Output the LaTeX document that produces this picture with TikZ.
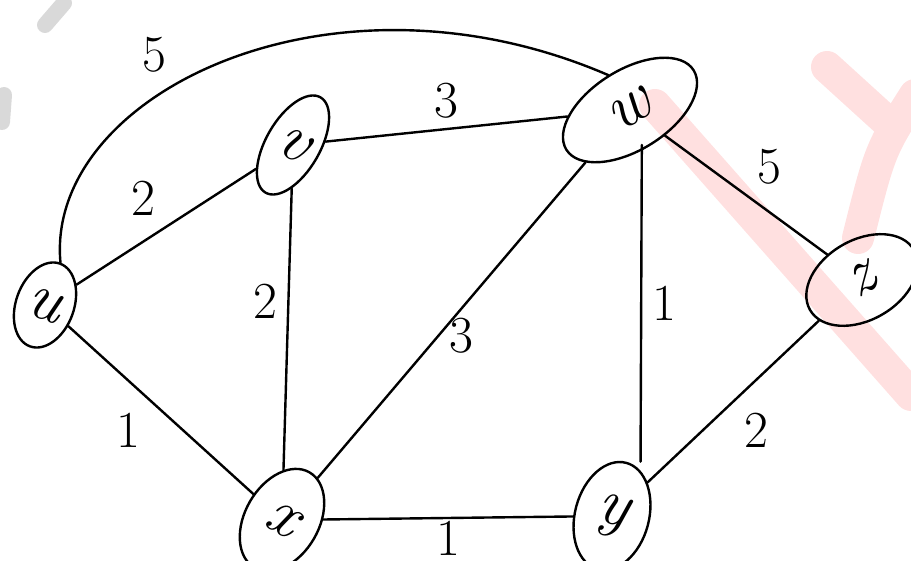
\documentclass[tikz,border=0pt]{standalone}
\usepackage{fontspec}
\usetikzlibrary{shapes.geometric}

\begin{document}
\begin{tikzpicture}[x=0.5pt,y=-0.5pt,
vertex/.style={draw=black, line width=1.2pt, ellipse, inner sep=0pt, font=\fontsize{33}{38}\selectfont\itshape},
edge/.style={draw=black, line width=1.2pt, line cap=round},
wt/.style={font=\fontsize{26}{30}\selectfont, inner sep=5pt},
wmark/.style={draw=red!12, line width=16pt, line cap=round},
scuff/.style={draw=gray!30, line width=8pt, line cap=round}
]
\useasboundingbox (0,0) rectangle (911,561);

\draw[wmark] (655,105) -- (911,395);
\draw[wmark] (827,67) -- (893,127);
\draw[wmark] (915,95) .. controls (880,150) .. (858,238);
\draw[scuff] (64,3) -- (45,25);
\draw[scuff] (4,95) -- (2,122);

\node[vertex, minimum width=29pt, minimum height=44pt, rotate=-20] (u) at (45,305) {u};
\node[vertex, minimum width=27pt, minimum height=55pt, rotate=-30] (v) at (293,145) {v};
\node[vertex, minimum width=75pt, minimum height=40pt, rotate=32] (w) at (630,110) {w};
\node[vertex, minimum width=60pt, minimum height=40pt, rotate=30] (z) at (862,280) {z};
\node[vertex, minimum width=37pt, minimum height=55pt, rotate=-30] (x) at (282,520) {x};
\node[vertex, minimum width=37pt, minimum height=55pt, rotate=-15] (y) at (612,516) {y};

\draw[edge] (u.north) .. controls (45,95) and (330,-45) .. node[wt, pos=0.42, above left] {5} (w.north);
\draw[edge] (u) -- node[wt, above left, pos=.5] {2} (v);
\draw[edge] (v) -- node[wt, above] {3} (w);
\draw[edge] (v) -- node[wt, left, pos=.4] {2} (x);
\draw[edge] (x) -- node[wt, right, pos=.45] {3} (w);
\draw[edge] ([xshift=-5pt]w.south) -- node[wt, right] {1} ([xshift=7pt]y.north);
\draw[edge] (w) -- node[wt, above right] {5} (z);
\draw[edge] (z) -- node[wt, below right] {2} (y);
\draw[edge] (u) -- node[wt, below left, pos=.45] {1} (x);
\draw[edge] (x) -- node[wt, below, inner sep=1pt, text depth=0pt] {1} (y);
\end{tikzpicture}
\end{document}
